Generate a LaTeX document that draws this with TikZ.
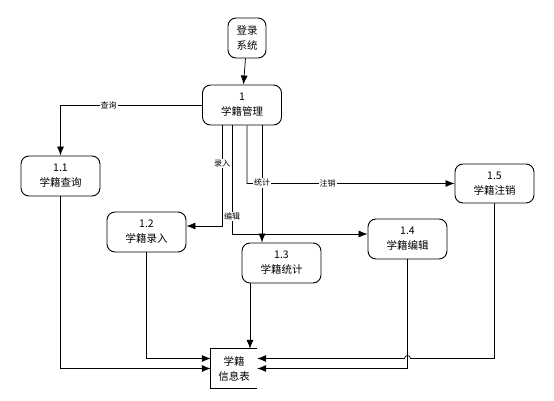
\documentclass[tikz,border=0pt]{standalone}
\usepackage{fontspec}
\setmainfont{Noto Sans CJK SC}
\usetikzlibrary{arrows.meta, positioning, calc}
\tikzset{
	process/.style={rectangle, draw, line width=0.9pt, rounded corners=8pt, minimum width=79pt, minimum height=40pt, inner sep=2pt, align=center, font=\fontsize{10.5}{15}\selectfont},
	source/.style={rectangle, draw, line width=0.9pt, rounded corners=8pt, minimum width=38pt, minimum height=40pt, inner sep=2pt, align=center, font=\fontsize{10.5}{15}\selectfont},
	store/.style={rectangle, minimum width=46pt, minimum height=39pt, inner sep=0pt, align=center, font=\fontsize{10.5}{15}\selectfont},
	line/.style={draw, line width=0.75pt, -{Latex[length=9pt, width=7pt]}},
	flowlabel/.style={font=\fontsize{8}{9}\selectfont, fill=white, inner sep=1pt}
}

\begin{document}
\begin{tikzpicture}[x=1pt, y=-1pt]
	\useasboundingbox (0,0) rectangle (554,401);
	
	% External entity and main process
	\node[source] (login) at (247,38) {登录\\系统};
	\node[process] (manage) at (242,105) {1\\学籍管理};
	
	% Sub processes
	\node[process] (query) at (60.5,176) {1.1\\学籍查询};
	\node[process] (enter) at (146.5,232) {1.2\\学籍录入};
	\node[process] (stat) at (281.5,263) {1.3\\学籍统计};
	\node[process] (edit) at (407.5,239) {1.4\\学籍编辑};
	\node[process, minimum height=39pt] (cancel) at (494.5,183.5) {1.5\\学籍注销};
	
	% Data store (open on the right)
	\node[store] (info_table) at (234,368.5) {学籍\\信息表};
	\draw[line width=0.9pt] (info_table.north east) -- (info_table.north west) -- (info_table.south west) -- (info_table.south east);
	
	% taps below the main process
	\coordinate (tap_enter) at ($(manage.south)+(-20,0)$);
	\coordinate (tap_edit) at ($(manage.south)+(-10,0)$);
	\coordinate (tap_cancel) at ($(manage.south)+(5,0)$);
	\coordinate (tap_stat) at ($(manage.south)+(20,0)$);
	\coordinate (hop_stat) at (tap_stat |- cancel.west);
	
	% main process to sub processes
	\draw[line] (login) -- (manage);
	\draw[line] (manage.west) -| node[flowlabel, pos=0.33] {查询} (query.north);
	\draw[line] (tap_enter) |- node[flowlabel, pos=0.19] {录入} ([yshift=6pt]enter.east);
	\draw[line] (tap_edit) |- node[flowlabel, pos=0.42] {编辑} ([yshift=5pt]edit.west);
	\draw[line] (tap_cancel) |- ($(hop_stat)+(-3,0)$) arc[start angle=180, end angle=0, radius=3pt] -- node[flowlabel, pos=0.33] {注销} (cancel.west);
	\draw[line] (tap_stat) -- node[flowlabel, pos=0.49] {统计} (tap_stat |- stat.north);
	
	% sub processes to the data store
	\coordinate (store_in_left) at ([yshift=10pt]info_table.west);
	\coordinate (store_in_right) at ([yshift=10pt]info_table.east);
	\coordinate (stat_out) at ($(stat.south)+(-31.5,0)$);
	\coordinate (hop_edit) at (edit.south |- store_in_right);
	
	\draw[line] (query.south) |- (info_table.west);
	\draw[line] (enter.south) |- (store_in_left);
	\draw[line] (stat_out) -- (stat_out |- info_table.north);
	\draw[line] (edit.south) |- (info_table.east);
	\draw[line] (cancel.south) |- ($(hop_edit)+(3,0)$) arc[start angle=0, end angle=180, radius=3pt] -- (store_in_right);
	
\end{tikzpicture}
\end{document}
